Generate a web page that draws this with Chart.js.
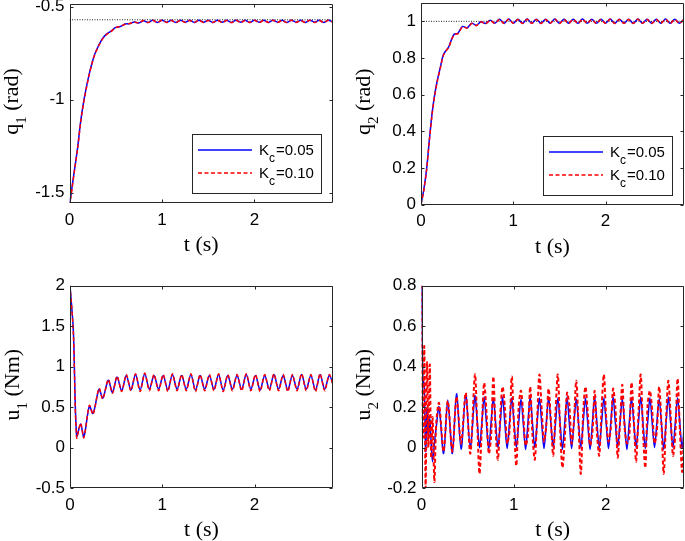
<!DOCTYPE html>
<html>
<head>
<meta charset="utf-8">
<script src="https://cdn.jsdelivr.net/npm/chart.js@4.4.0/dist/chart.umd.min.js"></script>
<style>
  html, body { margin: 0; padding: 0; background: #fff; }
  #wrap { position: relative; width: 685px; height: 541px; overflow: hidden; background: #fff; }
  canvas { position: absolute; left: 0; top: 0; }
</style>
</head>
<body>
<div id="wrap">
  <canvas id="cq1" width="685" height="541"></canvas>
  <canvas id="cq2" width="685" height="541"></canvas>
  <canvas id="cu1" width="685" height="541"></canvas>
  <canvas id="cu2" width="685" height="541"></canvas>
</div>
<script>
// ---- tick labels ----
const xTicks = [0, 1, 2];
const q1Ticks = [-1.5, -1, -0.5];
const q2Ticks = [0, 0.2, 0.4, 0.6, 0.8, 1];
const u1Ticks = [-0.5, 0, 0.5, 1, 1.5, 2];
const u2Ticks = [-0.2, 0, 0.2, 0.4, 0.6, 0.8];

// legend gains (K_c)
const gains = ['0.05', '0.10'];

// ---- joint positions ----
const tQ = [0, 0.03, 0.06, 0.09, 0.12, 0.15, 0.18, 0.21, 0.24, 0.27, 0.30, 0.33, 0.36,
  0.40, 0.45, 0.50, 0.55, 0.60, 0.65, 0.70, 0.75, 0.80, 0.85, 0.90, 0.95, 1.00,
  1.05, 1.10, 1.15, 1.20, 1.25, 1.30, 1.35, 1.40, 1.45, 1.50, 1.55, 1.60, 1.65, 1.70, 1.75,
  1.80, 1.85, 1.90, 1.95, 2.00, 2.05, 2.10, 2.15, 2.20, 2.25, 2.30, 2.35, 2.40, 2.45, 2.50,
  2.55, 2.60, 2.65, 2.70, 2.75, 2.80, 2.85];

const q1Ref = [-0.5708, -0.5708];
const q2Ref = [1, 1];
const tRef = [0, 2.85];

const q1Low = [-1.571, -1.46, -1.357, -1.25, -1.12, -1.02, -0.94, -0.87, -0.81, -0.76, -0.725, -0.695, -0.67,
  -0.648, -0.632, -0.612, -0.607, -0.594, -0.592, -0.583, -0.588,
  -0.576, -0.585, -0.574, -0.585, -0.573, -0.584, -0.574, -0.585, -0.573, -0.584,
  -0.574, -0.585, -0.573, -0.584, -0.574, -0.585, -0.573, -0.584, -0.574, -0.585,
  -0.573, -0.584, -0.574, -0.585, -0.573, -0.584, -0.574, -0.585, -0.573, -0.584,
  -0.574, -0.585, -0.573, -0.584, -0.574, -0.585, -0.573, -0.584, -0.574, -0.585,
  -0.573, -0.584];
const q1High = [-1.571, -1.47, -1.36, -1.255, -1.125, -1.025, -0.945, -0.873, -0.812, -0.762, -0.727, -0.697, -0.672,
  -0.65, -0.633, -0.613, -0.606, -0.595, -0.591, -0.584, -0.587,
  -0.575, -0.586, -0.574, -0.585, -0.574, -0.585, -0.575, -0.586, -0.574, -0.585,
  -0.575, -0.585, -0.574, -0.586, -0.575, -0.585, -0.574, -0.585, -0.575, -0.586,
  -0.574, -0.585, -0.575, -0.585, -0.574, -0.586, -0.575, -0.585, -0.574, -0.585,
  -0.575, -0.586, -0.574, -0.585, -0.575, -0.585, -0.574, -0.586, -0.575, -0.585,
  -0.574, -0.585];

const q2Low = [0, 0.08, 0.19, 0.35, 0.497, 0.605, 0.685, 0.75, 0.815, 0.84, 0.86, 0.90, 0.93,
  0.935, 0.972, 0.965, 0.99, 0.978, 0.998, 0.988, 1.006,
  0.99, 1.011, 0.989, 1.012, 0.99, 1.011, 0.989, 1.012, 0.99, 1.011,
  0.989, 1.011, 0.99, 1.012, 0.989, 1.011, 0.99, 1.011, 0.989, 1.012,
  0.99, 1.011, 0.989, 1.011, 0.99, 1.012, 0.989, 1.011, 0.99, 1.011,
  0.989, 1.012, 0.99, 1.011, 0.989, 1.011, 0.99, 1.012, 0.989, 1.011,
  0.99, 1.011];
const q2High = [0, 0.075, 0.185, 0.345, 0.49, 0.60, 0.68, 0.745, 0.81, 0.838, 0.858, 0.897, 0.928,
  0.933, 0.97, 0.963, 0.988, 0.976, 0.997, 0.987, 1.005,
  0.989, 1.01, 0.988, 1.011, 0.989, 1.01, 0.988, 1.011, 0.989, 1.01,
  0.988, 1.01, 0.989, 1.011, 0.988, 1.01, 0.989, 1.01, 0.988, 1.011,
  0.989, 1.01, 0.988, 1.01, 0.989, 1.011, 0.988, 1.01, 0.989, 1.01,
  0.988, 1.011, 0.989, 1.01, 0.988, 1.01, 0.989, 1.011, 0.988, 1.01,
  0.989, 1.01];

// ---- joint torques ----
const tU1 = [0, 0.036, 0.072, 0.115, 0.15, 0.21, 0.25, 0.315, 0.355, 0.415, 0.46,
  0.51, 0.56, 0.61, 0.66, 0.71, 0.76, 0.81, 0.86, 0.91, 0.96,
  1.01, 1.06, 1.11, 1.16, 1.21, 1.26, 1.31, 1.36, 1.41, 1.46,
  1.51, 1.56, 1.61, 1.66, 1.71, 1.76, 1.81, 1.86, 1.91, 1.96,
  2.01, 2.06, 2.11, 2.16, 2.21, 2.26, 2.31, 2.36, 2.41, 2.46,
  2.51, 2.56, 2.61, 2.66, 2.71, 2.76, 2.81, 2.86];
const u1Low = [2.0, 1.45, 0.14, 0.29, 0.13, 0.51, 0.42, 0.72, 0.61, 0.83, 0.68,
  0.87, 0.70, 0.89, 0.71, 0.90, 0.71, 0.91, 0.72, 0.89, 0.72,
  0.89, 0.71, 0.90, 0.72, 0.89, 0.72, 0.90, 0.71, 0.89, 0.72,
  0.89, 0.72, 0.90, 0.71, 0.89, 0.72, 0.89, 0.72, 0.90, 0.72,
  0.89, 0.71, 0.89, 0.72, 0.90, 0.72, 0.89, 0.71, 0.89, 0.72,
  0.90, 0.72, 0.89, 0.71, 0.90, 0.72, 0.89, 0.75];
const u1High = [2.0, 1.42, 0.12, 0.30, 0.12, 0.52, 0.41, 0.73, 0.60, 0.84, 0.67,
  0.88, 0.69, 0.90, 0.70, 0.91, 0.69, 0.92, 0.70, 0.90, 0.70,
  0.90, 0.69, 0.91, 0.70, 0.90, 0.70, 0.91, 0.69, 0.90, 0.70,
  0.90, 0.70, 0.91, 0.69, 0.90, 0.70, 0.90, 0.70, 0.91, 0.70,
  0.90, 0.69, 0.90, 0.70, 0.91, 0.70, 0.90, 0.69, 0.90, 0.70,
  0.91, 0.70, 0.90, 0.69, 0.91, 0.70, 0.90, 0.73];

const tU2 = [0, 0.015, 0.03, 0.045, 0.06, 0.075, 0.09, 0.105, 0.12, 0.14, 0.16, 0.19, 0.24, 0.285, 0.335, 0.38, 0.43, 0.48, 0.53,
  0.58, 0.605, 0.63, 0.655, 0.68, 0.705, 0.73, 0.755, 0.78, 0.805, 0.83, 0.855,
  0.88, 0.905, 0.93, 0.955, 0.98, 1.005, 1.03, 1.055, 1.08, 1.105, 1.13, 1.155,
  1.18, 1.205, 1.23, 1.255, 1.28, 1.305, 1.33, 1.355, 1.38, 1.405, 1.43, 1.455,
  1.48, 1.505, 1.53, 1.555, 1.58, 1.605, 1.63, 1.655, 1.68, 1.705, 1.73, 1.755,
  1.78, 1.805, 1.83, 1.855, 1.88, 1.905, 1.93, 1.955, 1.98, 2.005, 2.03, 2.055,
  2.08, 2.105, 2.13, 2.155, 2.18, 2.205, 2.23, 2.255, 2.28, 2.305, 2.33, 2.355,
  2.38, 2.405, 2.43, 2.455, 2.48, 2.505, 2.53, 2.555, 2.58, 2.605, 2.63, 2.655,
  2.68, 2.705, 2.73, 2.755, 2.78, 2.805, 2.83, 2.855];
const u2Low = [0.80, 0.35, 0.30, -0.02, 0.19, 0.05, 0.14, 0.02, -0.07, 0.02, 0.10, 0.20, -0.03, 0.235, -0.03, 0.265, -0.01, 0.26, 0.0,
  0.255, 0.13, 0.0, 0.12, 0.25, 0.12, -0.01, 0.12, 0.245, 0.12, 0.0, 0.12,
  0.25, 0.12, -0.005, 0.12, 0.245, 0.12, 0.0, 0.12, 0.24, 0.12, -0.01, 0.12,
  0.25, 0.12, 0.0, 0.12, 0.245, 0.12, -0.005, 0.12, 0.25, 0.12, 0.0, 0.12,
  0.245, 0.12, -0.01, 0.12, 0.25, 0.12, -0.005, 0.12, 0.24, 0.12, 0.0, 0.12,
  0.245, 0.12, -0.01, 0.12, 0.25, 0.12, 0.0, 0.12, 0.245, 0.12, -0.005, 0.12,
  0.25, 0.12, 0.0, 0.12, 0.24, 0.12, -0.01, 0.12, 0.245, 0.12, 0.0, 0.12,
  0.25, 0.12, -0.005, 0.12, 0.245, 0.12, 0.0, 0.12, 0.24, 0.12, -0.01, 0.12,
  0.25, 0.12, 0.0, 0.12, 0.245, 0.12, -0.005, 0.12];
const u2High = [0.80, 0.05, 0.50, -0.20, 0.42, 0.00, 0.41, -0.05, 0.15, -0.17, 0.12, 0.22, -0.02, 0.23, -0.02, 0.25, 0.02, 0.27, -0.03,
  0.36, 0.12, -0.13, 0.10, 0.32, 0.18, -0.03, 0.05, 0.35, 0.08, -0.06, 0.16,
  0.30, 0.20, 0.02, 0.08, 0.35, 0.10, -0.09, 0.20, 0.28, 0.16, 0.01, 0.06,
  0.30, 0.06, -0.06, 0.14, 0.36, 0.19, 0.03, 0.11, 0.29, 0.13, -0.04, 0.18,
  0.36, 0.09, -0.10, 0.04, 0.27, 0.21, 0.02, 0.13, 0.33, 0.11, -0.13, 0.17,
  0.30, 0.17, 0.01, 0.07, 0.28, 0.07, -0.04, 0.19, 0.36, 0.15, 0.03, 0.09,
  0.29, 0.20, -0.05, 0.12, 0.31, 0.10, 0.02, 0.05, 0.32, 0.14, -0.07, 0.16,
  0.36, 0.08, -0.10, 0.21, 0.28, 0.18, 0.02, 0.08, 0.30, 0.12, -0.13, 0.14,
  0.33, 0.16, -0.04, 0.06, 0.34, 0.09, -0.12, 0.15];

// ---- look ----
const W = 685, H = 541;
const serif = '"Liberation Serif", "Times New Roman", serif';
const sans = '"Liberation Sans", Arial, sans-serif';
const axisColor = '#262626';
const blue = '#0000ff', red = '#ff0000';
const redDash = [4, 2.5];

function pts(t, v) { return t.map((x, i) => ({ x: x, y: v[i] })); }

function solid(t, v) {
  return { data: pts(t, v), borderColor: blue, borderWidth: 1.5, pointRadius: 0, tension: 0.3, order: 2 };
}
function dashed(t, v, w) {
  return { data: pts(t, v), borderColor: red, borderWidth: w || 1.5, borderDash: redDash, pointRadius: 0, tension: 0.3, order: 1 };
}
function refLine(t, v) {
  return { data: pts(t, v), borderColor: '#222', borderWidth: 1, borderDash: [1, 1.5], pointRadius: 0, order: 3 };
}

function drawLegend(ctx, a) {
  const bw = 129, bh = 59;
  const bx = Math.round(a.right - 141), by = Math.round(a.bottom - 69);
  ctx.fillStyle = '#fff';
  ctx.fillRect(bx, by, bw, bh);
  ctx.strokeStyle = axisColor;
  ctx.lineWidth = 1;
  ctx.strokeRect(bx + 0.5, by + 0.5, bw, bh);
  gains.forEach((g, i) => {
    const y = by + 16 + i * 23;
    ctx.beginPath();
    ctx.setLineDash(i ? redDash : []);
    ctx.strokeStyle = i ? red : blue;
    ctx.lineWidth = 1.5;
    ctx.moveTo(bx + 6, y);
    ctx.lineTo(bx + 60, y);
    ctx.stroke();
    ctx.setLineDash([]);
    ctx.fillStyle = '#000';
    ctx.textAlign = 'left';
    ctx.textBaseline = 'alphabetic';
    let x = bx + 67;
    ctx.font = '15px ' + sans;
    ctx.fillText('K', x, y + 5);
    x += ctx.measureText('K').width;
    ctx.font = '12px ' + sans;
    ctx.fillText('c', x, y + 12);
    x += ctx.measureText('c').width + 1;
    ctx.font = '15px ' + sans;
    ctx.fillText('=' + g, x, y + 5);
  });
}

// box, inward ticks, axis titles and legend
const decor = {
  id: 'decor',
  afterDatasetsDraw(chart, args, opts) {
    const ctx = chart.ctx, a = chart.chartArea;
    const xs = chart.scales.x, ys = chart.scales.y;
    const tl = 3;
    ctx.save();
    ctx.strokeStyle = axisColor;
    ctx.lineWidth = 1;
    ctx.beginPath();
    const L = Math.round(a.left) + 0.5, R = Math.round(a.right) - 0.5;
    const T = Math.round(a.top) + 0.5, B = Math.round(a.bottom) - 0.5;
    ctx.rect(L, T, R - L, B - T);
    xs.ticks.forEach(t => {
      const px = Math.round(xs.getPixelForValue(t.value)) + 0.5;
      ctx.moveTo(px, B); ctx.lineTo(px, B - tl);
      ctx.moveTo(px, T); ctx.lineTo(px, T + tl);
    });
    ys.ticks.forEach(t => {
      const py = Math.round(ys.getPixelForValue(t.value)) + 0.5;
      ctx.moveTo(L, py); ctx.lineTo(L + tl, py);
      ctx.moveTo(R, py); ctx.lineTo(R - tl, py);
    });
    ctx.stroke();

    // x title
    ctx.fillStyle = '#000';
    ctx.font = '22px ' + serif;
    ctx.textAlign = 'center';
    ctx.textBaseline = 'alphabetic';
    ctx.fillText('t (s)', (a.left + a.right) / 2, a.bottom + 48);

    // y title with subscript, rotated
    ctx.save();
    ctx.translate(a.left - 51.5, (a.top + a.bottom) / 2 - 2);
    ctx.rotate(-Math.PI / 2);
    ctx.textAlign = 'left';
    const mainFont = '22px ' + serif, subFont = '15px ' + serif;
    ctx.font = mainFont;
    const w1 = ctx.measureText(opts.yMain).width;
    const w3 = ctx.measureText(opts.yRest).width;
    ctx.font = subFont;
    const w2 = ctx.measureText(opts.ySub).width;
    let x = -(w1 + w2 + w3) / 2;
    ctx.font = mainFont;
    ctx.fillText(opts.yMain, x, 0);
    x += w1;
    ctx.font = subFont;
    ctx.fillText(opts.ySub, x, 8);
    x += w2;
    ctx.font = mainFont;
    ctx.fillText(opts.yRest, x, 0);
    ctx.restore();

    if (opts.legend) drawLegend(ctx, a);
    ctx.restore();
  }
};

function makeChart(id, area, yMin, yMax, yTicks, datasets, title) {
  const tickFont = { family: sans, size: 17 };
  return new Chart(document.getElementById(id), {
    type: 'line',
    data: { datasets: datasets },
    options: {
      responsive: false,
      animation: false,
      devicePixelRatio: 1,
      events: [],
      layout: { padding: { left: 0, top: area.t, right: W - area.r, bottom: 0 } },
      plugins: {
        legend: { display: false },
        tooltip: { enabled: false },
        decor: title
      },
      scales: {
        x: {
          type: 'linear', min: 0, max: 2.85,
          grid: { display: false, drawTicks: false },
          border: { display: false },
          ticks: { font: tickFont, color: '#000', padding: 7, autoSkip: false, maxRotation: 0, callback: v => String(v) },
          afterBuildTicks: s => { s.ticks = xTicks.map(v => ({ value: v })); },
          afterFit: s => { s.height = H - area.b; s.paddingLeft = 0; s.paddingRight = 0; }
        },
        y: {
          type: 'linear', min: yMin, max: yMax,
          grid: { display: false, drawTicks: false },
          border: { display: false },
          ticks: { font: tickFont, color: '#000', padding: 5, autoSkip: false, callback: v => String(v) },
          afterBuildTicks: s => { s.ticks = yTicks.map(v => ({ value: v })); },
          afterFit: s => { s.width = area.l; s.paddingTop = 0; s.paddingBottom = 0; }
        }
      }
    },
    plugins: [decor]
  });
}

makeChart('cq1', { l: 69.5, t: 4, r: 333, b: 203 }, -1.556, -0.486, q1Ticks,
  [dashed(tQ, q1High), solid(tQ, q1Low), refLine(tRef, q1Ref)],
  { yMain: 'q', ySub: '1', yRest: ' (rad)', legend: true });

makeChart('cq2', { l: 421, t: 3, r: 684, b: 204.5 }, 0, 1.1, q2Ticks,
  [dashed(tQ, q2High), solid(tQ, q2Low), refLine(tRef, q2Ref)],
  { yMain: 'q', ySub: '2', yRest: ' (rad)', legend: true });

makeChart('cu1', { l: 70, t: 285.5, r: 333, b: 488 }, -0.5, 2, u1Ticks,
  [dashed(tU1, u1High), solid(tU1, u1Low)],
  { yMain: 'u', ySub: '1', yRest: ' (Nm)', legend: false });

makeChart('cu2', { l: 421.5, t: 285.5, r: 684, b: 488 }, -0.2, 0.8, u2Ticks,
  [dashed(tU2, u2High, 2), solid(tU2, u2Low)],
  { yMain: 'u', ySub: '2', yRest: ' (Nm)', legend: false });
</script>
</body>
</html>
